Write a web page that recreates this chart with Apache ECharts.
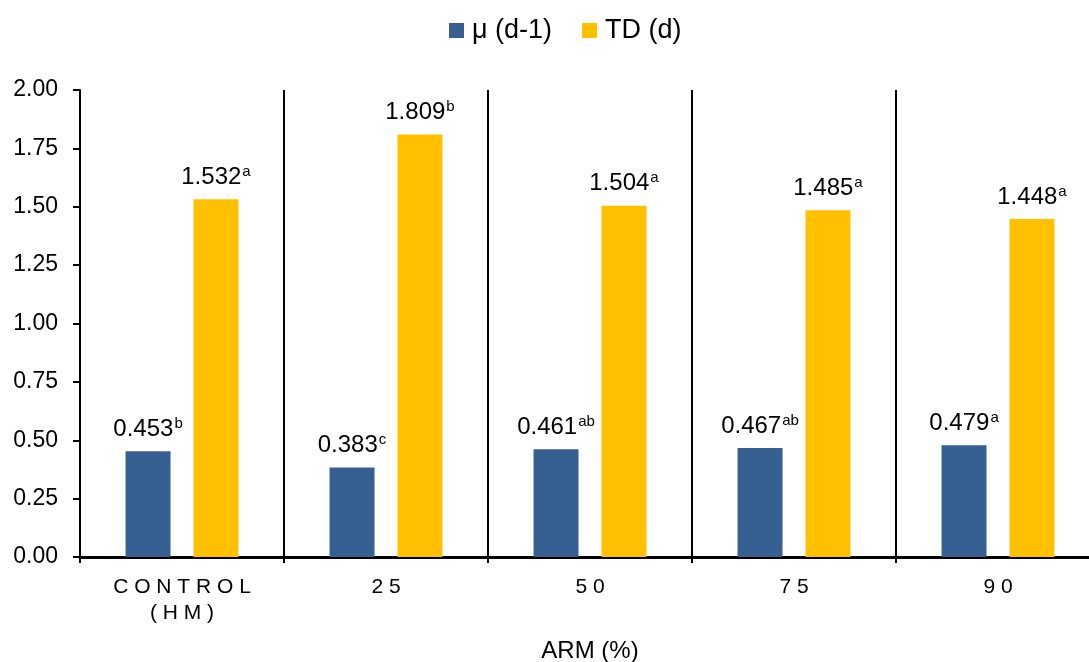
<!DOCTYPE html>
<html><head><meta charset="utf-8">
<script src="https://cdn.jsdelivr.net/npm/echarts@6/dist/echarts.min.js"></script>
<style>html,body{margin:0;padding:0;background:#fff}#c{width:1089px;height:662px}</style>
</head><body><div id="c"></div>
<script>
const categories = ['CONTROL\n(HM)', '25', '50', '75', '90'];
const muValues = [0.453, 0.383, 0.461, 0.467, 0.479];
const muLetters = ['b', 'c', 'ab', 'ab', 'a'];
const tdValues = [1.532, 1.809, 1.504, 1.485, 1.448];
const tdLetters = ['a', 'b', 'a', 'a', 'a'];
const yTicks = [0, 0.25, 0.5, 0.75, 1, 1.25, 1.5, 1.75, 2];

const FONT = 'Liberation Sans, Arial, sans-serif';
const chart = echarts.init(document.getElementById('c'));
function lbl(letters) {
  return {
    show: true, position: 'top', distance: 9,
    formatter: p => '{v|' + p.value.toFixed(3) + '}{s|' + letters[p.dataIndex] + '}',
    rich: {
      v: {fontSize: 24, color: '#000', fontFamily: FONT},
      s: {fontSize: 15, color: '#000', fontFamily: FONT, padding: [0, 0, 11, 1]}
    }
  };
}
chart.setOption({
  animation: false,
  legend: {
    top: 17, left: 449, padding: 0, itemWidth: 15, itemHeight: 15, itemGap: 30,
    icon: 'rect',
    textStyle: {fontSize: 27, color: '#000', fontFamily: FONT, padding: [0, 0, 0, 3]},
    data: ['μ (d-1)', 'TD (d)']
  },
  grid: {left: 80, width: 1020, top: 90, height: 467, outerBoundsMode: 'none', containLabel: false},
  xAxis: {
    type: 'category', data: categories,
    name: 'ARM (%)', nameLocation: 'middle', nameGap: 82,
    nameTextStyle: {fontSize: 24, color: '#000', fontFamily: FONT},
    axisLine: {lineStyle: {color: '#000', width: 3}},
    axisTick: {show: true, length: 6, lineStyle: {color: '#000', width: 2}},
    splitLine: {show: true, interval: 0, lineStyle: {color: '#000', width: 2}},
    axisLabel: {
      interval: 0, margin: 17, fontSize: 21, lineHeight: 26, color: '#000', fontFamily: FONT,
      formatter: v => v.split('\n').map(l => l.split('').join(' ')).join('\n')
    }
  },
  yAxis: {
    type: 'value', min: yTicks[0], max: yTicks[yTicks.length - 1], interval: 0.25,
    axisLine: {show: true, lineStyle: {color: '#000', width: 2}},
    axisTick: {show: true, length: 7, lineStyle: {color: '#000', width: 2}},
    splitLine: {show: false},
    axisLabel: {margin: 22, fontSize: 23, color: '#000', fontFamily: FONT, formatter: v => v.toFixed(2)}
  },
  series: [
    {name: 'μ (d-1)', type: 'bar', data: muValues, barWidth: 45, barGap: '51%',
     itemStyle: {color: '#376092'}, label: lbl(muLetters)},
    {name: 'TD (d)', type: 'bar', data: tdValues, barWidth: 45,
     itemStyle: {color: '#FFC000'}, label: lbl(tdLetters)}
  ]
});
</script></body></html>
